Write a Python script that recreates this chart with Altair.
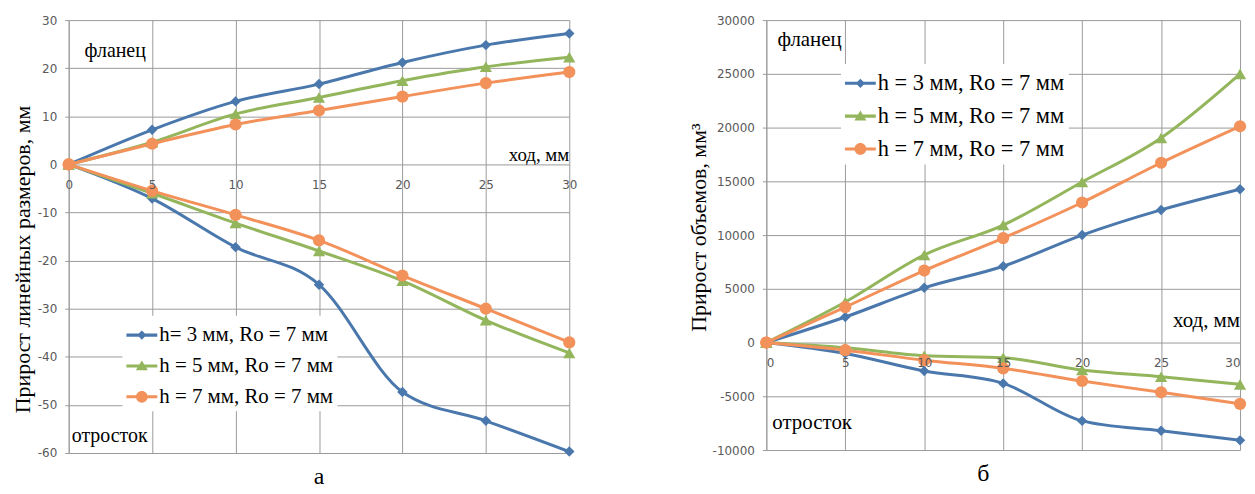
import altair as alt
import pandas as pd

# ---------------- data ----------------
x_vals = [0, 5, 10, 15, 20, 25, 30]

# panel "а": linear size increment, mm
a_fl_h3 = [0, 7.2, 13.1, 16.7, 21.2, 24.8, 27.2]
a_fl_h5 = [0, 4.6, 10.5, 13.9, 17.4, 20.3, 22.3]
a_fl_h7 = [0, 4.3, 8.3, 11.2, 14.1, 16.9, 19.2]
a_ot_h3 = [0, -7.1, -17.2, -25.0, -47.3, -53.3, -59.7]
a_ot_h5 = [0, -6.0, -12.2, -18.0, -24.2, -32.4, -39.2]
a_ot_h7 = [0, -5.5, -10.5, -15.8, -23.1, -30.0, -37.0]

# panel "б": volume increment, mm^3
b_fl_h3 = [0, 2380, 5090, 7100, 10000, 12340, 14260]
b_fl_h5 = [0, 3770, 8150, 10930, 14940, 19040, 25000]
b_fl_h7 = [0, 3300, 6700, 9720, 13030, 16730, 20120]
b_ot_h3 = [0, -1020, -2650, -3800, -7290, -8210, -9100]
b_ot_h5 = [0, -490, -1230, -1420, -2560, -3180, -3890]
b_ot_h7 = [0, -710, -1640, -2400, -3580, -4630, -5710]

labels_a = ["h= 3 мм, Ro = 7 мм", "h = 5 мм, Ro = 7 мм", "h = 7 мм, Ro = 7 мм"]
labels_b = ["h = 3 мм, Ro = 7 мм", "h = 5 мм, Ro = 7 мм", "h = 7 мм, Ro = 7 мм"]
part_names = ["фланец", "отросток"]

# ---------------- styles ----------------
colors = ["#4A78AD", "#93B55B", "#F3915A"]
shapes = ["diamond", "triangle-up", "circle"]
sizes = [110, 150, 150]
legend_paths = [
    "M-1,-0.1H1V0.1H-1Z M0,-0.3L0.3,0L0,0.3L-0.3,0Z",
    "M-1,-0.1H1V0.1H-1Z M0,-0.36L0.39,0.28L-0.39,0.28Z",
    "M-1,-0.1H1V0.1H-1Z M-0.38,0A0.38,0.38 0 1,1 0.38,0A0.38,0.38 0 1,1 -0.38,0Z",
]
GRID = "#9A9A9A"
SERIF = "Liberation Serif"
SANS = "DejaVu Sans"


def make_df(labels, flange, process):
    rows = []
    for lab, fl, pr in zip(labels, flange, process):
        for part, ys in ((part_names[0], fl), (part_names[1], pr)):
            for xv, yv in zip(x_vals, ys):
                rows.append({"x": xv, "y": yv, "series": lab, "part": part})
    return pd.DataFrame(rows)


df_a = make_df(labels_a, [a_fl_h3, a_fl_h5, a_fl_h7], [a_ot_h3, a_ot_h5, a_ot_h7])
df_b = make_df(labels_b, [b_fl_h3, b_fl_h5, b_fl_h7], [b_ot_h3, b_ot_h5, b_ot_h7])


def panel(df, labels, ydom, ystep, w, h, x_offset, ytitle, title_y, tpad,
          legend_xy, legend_font, legend_rowpad, notes, letter, letter_dx, flush):
    xsc = alt.Scale(domain=[0, 30], nice=False, zero=False)
    ysc = alt.Scale(domain=ydom, nice=False, zero=False)
    yvals = list(range(ydom[0], ydom[1] + 1, ystep))
    # grid-only x axis (behind the marks)
    x_axis_grid = alt.Axis(values=x_vals, orient="bottom", grid=True, gridColor=GRID,
                           gridWidth=1, domain=False, ticks=False, labels=False)
    # labels of the x axis, at y = 0, above the marks
    x_axis_lab = alt.Axis(values=x_vals, orient="bottom", offset=x_offset, grid=False,
                          domain=False, ticks=False, labelPadding=15, zindex=1,
                          labelFont=SANS, labelFontSize=12, labelColor="#595959",
                          labelFlush=flush, labelExpr="'' + datum.value")
    y_axis = alt.Axis(values=yvals, grid=True, gridColor=GRID, gridWidth=1,
                      domainColor=GRID, tickColor=GRID, tickSize=4, labelPadding=8,
                      labelFont=SANS, labelFontSize=12, labelColor="#595959",
                      labelExpr="'' + datum.value",
                      titleFont=SERIF, titleFontSize=22, titleFontWeight="normal",
                      titleColor="black", titleY=title_y, titlePadding=tpad)
    X = alt.X("x:Q", scale=xsc, axis=x_axis_grid, title=None)
    XL = alt.X("x:Q", scale=xsc, axis=x_axis_lab, title=None)
    Y = alt.Y("y:Q", scale=ysc, axis=y_axis, title=ytitle)
    base = alt.Chart(df)
    cscale = alt.Scale(domain=labels, range=colors)

    # invisible layer carrying the legend (line + marker symbols)
    leg = alt.Legend(orient="none", legendX=legend_xy[0], legendY=legend_xy[1],
                     fillColor="white", padding=4, symbolSize=961, symbolStrokeWidth=0,
                     symbolOpacity=1, labelFont=SERIF, labelFontSize=legend_font,
                     labelColor="black", labelOffset=2, rowPadding=legend_rowpad,
                     labelLimit=400)
    legend_layer = base.mark_point(filled=True, opacity=0).encode(
        x=X, y=Y,
        color=alt.Color("series:N", scale=cscale, legend=leg, title=None),
        shape=alt.Shape("series:N", scale=alt.Scale(domain=labels, range=legend_paths),
                        legend=leg, title=None),
    )
    lines = [
        base.transform_filter(alt.datum.series == lab)
        .mark_line(interpolate="monotone", strokeWidth=3, color=c)
        .encode(x=X, y=Y, detail="part:N")
        for lab, c in zip(labels, colors)
    ]
    pts = [
        base.transform_filter(alt.datum.series == lab)
        .mark_point(shape=s, filled=True, size=sz, opacity=1, color=c, strokeWidth=0)
        .encode(x=X, y=Y)
        for lab, s, sz, c in zip(labels, shapes, sizes, colors)
    ]
    texts = []
    for align in ("left", "right"):
        nd = pd.DataFrame([n for n in notes if n["align"] == align])
        texts.append(
            alt.Chart(nd).mark_text(align=align, baseline="middle", font=SERIF, color="black")
            .encode(x=X, y=Y, text="t:N", size=alt.Size("fs:Q", scale=None, legend=None))
        )
    axis_layer = base.mark_point(opacity=0).encode(x=XL, y=Y)
    main = alt.layer(legend_layer, *lines, *pts, *texts)
    return alt.layer(main, axis_layer).resolve_axis(x="independent").properties(
        width=w, height=h,
        title=alt.TitleParams(letter, orient="bottom", frame="group", offset=6,
                              fontSize=24, font=SERIF, fontWeight="normal",
                              color="black", dx=letter_dx),
    )


notes_a = [
    {"x": 0.95, "y": 23.6, "t": "фланец", "align": "left", "fs": 20},
    {"x": 0.18, "y": -56.4, "t": "отросток", "align": "left", "fs": 20},
    {"x": 30.0, "y": 1.9, "t": "ход, мм", "align": "right", "fs": 19},
]
notes_b = [
    {"x": 0.7, "y": 28150, "t": "фланец", "align": "left", "fs": 21},
    {"x": 0.38, "y": -7500, "t": "отросток", "align": "left", "fs": 21},
    {"x": 30.0, "y": 2040, "t": "ход, мм", "align": "right", "fs": 21},
]

left = panel(df_a, labels_a, [-60, 30], 10, 503, 435, -290,
             "Прирост линейных размеров, мм", 240, 3, (54, 297), 21, 5, notes_a,
             "а", 0, False)
right = panel(df_b, labels_b, [-10000, 30000], 5000, 476, 432, -108,
              "Прирост объемов, мм³", 208, 2, (75, 44), 22.5, 6, notes_b,
              "б", -20, True)

chart = (
    alt.hconcat(left, right, spacing=110)
    .resolve_scale(color="independent", shape="independent", x="independent", y="independent")
    .resolve_legend(color="independent", shape="independent")
    .configure_view(stroke=None)
    .properties(padding={"left": 3, "top": 5, "right": 0, "bottom": 0}, background="white")
)

chart.save("out.html", embed_options={"renderer": "svg", "actions": False})
